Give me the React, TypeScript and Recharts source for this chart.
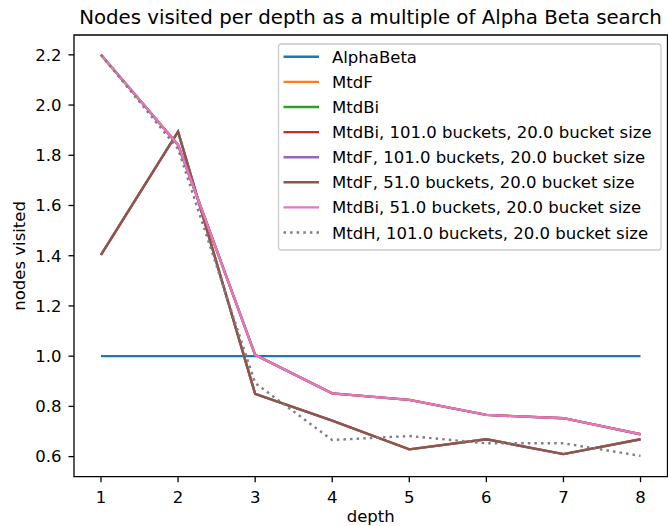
import { LineChart, Line, XAxis, YAxis, ReferenceArea } from 'recharts';

const depths = [1, 2, 3, 4, 5, 6, 7, 8];

const alphaBeta = [1, 1, 1, 1, 1, 1, 1, 1];
const mtdF = [1.403, 1.894, 0.85, 0.743, 0.629, 0.669, 0.61, 0.669];
const mtdBi = [2.2, 1.841, 1.005, 0.852, 0.826, 0.766, 0.753, 0.689];
const mtdBi101 = [2.2, 1.841, 1.005, 0.852, 0.826, 0.766, 0.753, 0.689];
const mtdF101 = [1.403, 1.894, 0.85, 0.743, 0.629, 0.669, 0.61, 0.669];
const mtdF51 = [1.403, 1.894, 0.85, 0.743, 0.629, 0.669, 0.61, 0.669];
const mtdBi51 = [2.2, 1.841, 1.005, 0.852, 0.826, 0.766, 0.753, 0.689];
const mtdH101 = [2.2, 1.825, 0.893, 0.666, 0.682, 0.653, 0.653, 0.603];

const xTicks = [1, 2, 3, 4, 5, 6, 7, 8];
const yTicks = [0.6, 0.8, 1.0, 1.2, 1.4, 1.6, 1.8, 2.0, 2.2];

const series = [
  { key: 'alphaBeta', name: 'AlphaBeta', values: alphaBeta, color: '#1f77b4', dash: undefined },
  { key: 'mtdF', name: 'MtdF', values: mtdF, color: '#ff7f0e', dash: undefined },
  { key: 'mtdBi', name: 'MtdBi', values: mtdBi, color: '#2ca02c', dash: undefined },
  { key: 'mtdBi101', name: 'MtdBi, 101.0 buckets, 20.0 bucket size', values: mtdBi101, color: '#d62728', dash: undefined },
  { key: 'mtdF101', name: 'MtdF, 101.0 buckets, 20.0 bucket size', values: mtdF101, color: '#9467bd', dash: undefined },
  { key: 'mtdF51', name: 'MtdF, 51.0 buckets, 20.0 bucket size', values: mtdF51, color: '#8c564b', dash: undefined },
  { key: 'mtdBi51', name: 'MtdBi, 51.0 buckets, 20.0 bucket size', values: mtdBi51, color: '#e377c2', dash: undefined },
  { key: 'mtdH101', name: 'MtdH, 101.0 buckets, 20.0 bucket size', values: mtdH101, color: '#7f7f7f', dash: '2.5 4.1' },
];

const chartData = depths.map((depth, i) => {
  const row: Record<string, number> = { depth };
  series.forEach((s) => {
    row[s.key] = s.values[i];
  });
  return row;
});

const FONT = '"DejaVu Sans", sans-serif';
const X_DOMAIN = [0.65, 8.35];
const Y_DOMAIN = [0.52, 2.279];

const App = () => {
  return (
    <div style={{ position: 'absolute', left: 0, top: 0, width: 668, height: 526, background: '#fff' }}>
      <LineChart
        width={668}
        height={526}
        data={chartData}
        margin={{ top: 35, right: 0.5, left: 0, bottom: 0 }}
      >
        <XAxis
          dataKey="depth"
          type="number"
          domain={X_DOMAIN}
          ticks={xTicks}
          height={49.3}
          axisLine={false}
          tickSize={5.5}
          tickMargin={9.5}
          tickLine={{ stroke: '#000', strokeWidth: 1.3 }}
          tick={{ fill: '#000', fontSize: 16.5, fontFamily: FONT }}
          label={{ value: 'depth', position: 'insideBottom', offset: 4, fill: '#000', fontSize: 16.5, fontFamily: FONT }}
        />
        <YAxis
          type="number"
          domain={Y_DOMAIN}
          ticks={yTicks}
          width={74}
          axisLine={false}
          tickSize={5.5}
          tickMargin={7}
          tickLine={{ stroke: '#000', strokeWidth: 1.3 }}
          tick={{ fill: '#000', fontSize: 16.5, fontFamily: FONT }}
          tickFormatter={(v: number) => v.toFixed(1)}
          label={{
            value: 'nodes visited',
            position: 'insideLeft',
            angle: -90,
            offset: 19,
            fill: '#000',
            fontSize: 16.5,
            fontFamily: FONT,
            style: { textAnchor: 'middle' },
          }}
        />
        {series.map((s) => (
          <Line
            key={s.key}
            dataKey={s.key}
            name={s.name}
            type="linear"
            stroke={s.color}
            strokeWidth={2.4}
            strokeDasharray={s.dash}
            dot={false}
            activeDot={false}
            isAnimationActive={false}
          />
        ))}
        <ReferenceArea
          x1={X_DOMAIN[0]}
          x2={X_DOMAIN[1]}
          y1={Y_DOMAIN[0]}
          y2={Y_DOMAIN[1]}
          fill="none"
          fillOpacity={0}
          stroke="#000"
          strokeWidth={1.3}
          ifOverflow="visible"
        />
      </LineChart>
      <svg
        width={668}
        height={526}
        style={{ position: 'absolute', left: 0, top: 0, pointerEvents: 'none' }}
      >
        <text x={370.5} y={24} textAnchor="middle" fontSize={19.8} fontFamily={FONT} fill="#000">
          Nodes visited per depth as a multiple of Alpha Beta search
        </text>
        <rect x={278.5} y={44} width={382.5} height={206} rx={3} fill="#fff" fillOpacity={0.8} stroke="#cccccc" strokeWidth={1.3} />
        {series.map((s, i) => {
          const cy = 56.8 + i * 25.1;
          return (
            <g key={s.key}>
              <line x1={283.5} x2={319} y1={cy} y2={cy} stroke={s.color} strokeWidth={2.4} strokeDasharray={s.dash} />
              <text x={332} y={cy + 6} fontSize={16.5} fontFamily={FONT} fill="#000">
                {s.name}
              </text>
            </g>
          );
        })}
      </svg>
    </div>
  );
};

export default App;
